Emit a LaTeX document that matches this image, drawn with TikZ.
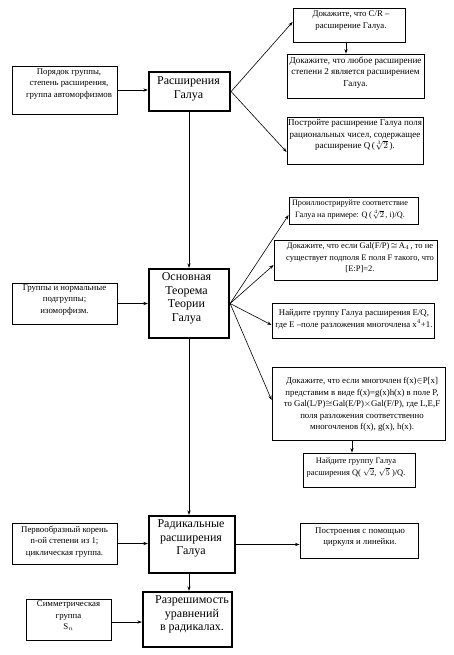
\documentclass[tikz,border=0pt]{standalone}
\usepackage{fontspec}
\setmainfont{Liberation Serif}
\usetikzlibrary{arrows.meta}
\begin{document}
\begin{tikzpicture}[x=1pt,y=-1pt,
  sbox/.style={draw, line width=0.8pt, inner sep=0pt},
  cbox/.style={draw, line width=2.2pt, inner sep=0pt},
  stext/.style={align=center, inner sep=0pt, anchor=north, font=\fontsize{8.8}{11.5}\selectfont},
  ctext/.style={align=center, inner sep=0pt, anchor=north, font=\fontsize{12}{13.5}\selectfont},
  arr/.style={-{Stealth[length=4.5pt,width=3.2pt]}, line width=0.6pt},
]
\useasboundingbox (0,0) rectangle (453,655);
\fill[white] (0,0) rectangle (453,655);

% central column
\node[cbox, minimum width=81pt, minimum height=39pt] (c1) at (189.5,91.5) {};
\node[ctext] (c1t) at (188.5,76.5) {Расширения\\Галуа};
\node[cbox, minimum width=80pt, minimum height=69pt] (c2) at (189,303.5) {};
\node[ctext] (c2t) at (186.5,272.5) {Основная\\Теорема\\Теории\\Галуа};
\node[cbox, minimum width=86pt, minimum height=57pt] (c3) at (192,544.5) {};
\node[ctext] (c3t) at (191,519.5) {Радикальные\\расширения\\Галуа};
\node[cbox, minimum width=89pt, minimum height=55pt] (c4) at (187.5,619.5) {};
\node[ctext] (c4t) at (192,595.5) {Разрешимость\\уравнений\\в радикалах.};

% left column
\node[sbox, minimum width=105pt, minimum height=48pt] (l1) at (64.5,90) {};
\node[stext] (l1t) at (69,68.5) {Порядок группы,\\степень расширения,\\группа автоморфизмов};
\node[sbox, minimum width=105pt, minimum height=41pt] (l2) at (64.5,303.5) {};
\node[stext] (l2t) at (64.5,284.5) {Группы и нормальные\\подгруппы;\\изоморфизм.};
\node[sbox, minimum width=105pt, minimum height=41pt] (l3) at (64.5,543.5) {};
\node[stext] (l3t) at (64.5,525.5) {Первообразный корень\\n-ой степени из 1;\\циклическая группа.};
\node[sbox, minimum width=85pt, minimum height=41pt] (l4) at (68.5,619.5) {};
\node[stext] (l4t) at (68.5,600.5) {Симметрическая\\группа\\S$_n$};

% right column
\node[sbox, minimum width=112pt, minimum height=34pt] (r1) at (349,25) {};
\node[stext] (r1t) at (351,10.5) {Докажите, что C/R –\\расширение Галуа.};
\node[sbox, minimum width=137pt, minimum height=44pt] (r2) at (355.5,76) {};
\node[stext, font=\fontsize{9.1}{11.5}\selectfont] (r2t) at (355.5,56.5) {Докажите, что любое расширение\\степени 2 является расширением\\Галуа.};
\node[sbox, minimum width=136pt, minimum height=47pt] (r3) at (355,140.5) {};
\node[stext, font=\fontsize{9}{11.5}\selectfont] (r3t) at (355,119.5) {Постройте расширение Галуа поля\\рациональных чисел, содержащее\\расширение Q\,($\sqrt[3]{2}$\,).};
\node[sbox, minimum width=129pt, minimum height=27pt] (r4) at (353.5,210.5) {};
\node[stext, font=\fontsize{8.2}{12.5}\selectfont] (r4t) at (350,199.5) {Проиллюстрируйте соответствие\\Галуа на примере: Q\,($\sqrt[4]{2}$\,, i)/Q.};
\node[sbox, minimum width=163pt, minimum height=40pt] (r5) at (355.5,260) {};
\node[stext, font=\fontsize{8.5}{11.5}\selectfont] (r5t) at (360,242.5) {Докажите, что если Gal(F/P)\,$\cong$\,A$_4$\,, то не\\существует подполя E поля F такого, что\\{[E:P]=2.}};
\node[sbox, minimum width=162pt, minimum height=35pt] (r6) at (353,320.5) {};
\node[stext] (r6t) at (354,309.5) {Найдите группу Галуа расширения E/Q,\\где E –поле разложения многочлена x$^4$+1.};
\node[sbox, minimum width=173pt, minimum height=73pt] (r7) at (358.5,403.5) {};
\node[stext] (r7t) at (362,377.5) {Докажите, что если многочлен f(x)$\in$P[x]\\представим в виде f(x)=g(x)h(x) в поле P,\\то Gal(L/P)$\cong$Gal(E/P)$\times$Gal(F/P), где L,E,F\\поля разложения соответственно\\многочленов f(x), g(x), h(x).};
\node[sbox, minimum width=112pt, minimum height=34pt] (r8) at (359,470) {};
\node[stext, font=\fontsize{8.4}{12}\selectfont] (r8t) at (356,457.5) {Найдите группу Галуа\\расширения Q( $\sqrt{2}$, $\sqrt{5}$ )/Q.};
\node[sbox, minimum width=118pt, minimum height=35pt] (r9) at (359,540.5) {};
\node[stext] (r9t) at (360,527.5) {Построения с помощью\\циркуля и линейки.};

% spine
\draw[arr] (c1.south -| c2.north) -- (c2.north);
\draw[arr] (c2.south) -- (c3.north -| c2.south);
\draw[arr] (c3.south -| c2.south) -- (c4.north -| c2.south);

% left to centre
\draw[arr] (l1.east) -- (l1.east -| c1.west);
\draw[arr] (l2.east) -- (c2.west);
\draw[arr] (l3.east) -- (l3.east -| c3.west);
\draw[arr] ([yshift=-2.5pt]l4.east) -- ([yshift=-2.5pt]l4.east -| c4.west);

% centre to right
\draw[arr] (c1.east) -- ([yshift=3pt]r1.west);
\draw[arr] (c1.east) -- ([yshift=-11.5pt]r3.west);
\draw[arr] ([xshift=-3pt]r1.south) -- ([xshift=-3pt]r1.south |- r2.north);
\draw[arr] (c2.east) -- ([yshift=-4.5pt]r4.west);
\draw[arr] (c2.east) -- ([yshift=-5pt]r5.west);
\draw[arr] (c2.east) -- ([yshift=-4.5pt]r6.west);
\draw[arr] (c2.east) -- ([yshift=3.5pt]r7.west);
\draw[arr] ([xshift=-6.5pt]r7.south) -- ([xshift=-6.5pt]r7.south |- r8.north);
\draw[arr] (c3.east) -- (c3.east -| r9.west);
\end{tikzpicture}
\end{document}
